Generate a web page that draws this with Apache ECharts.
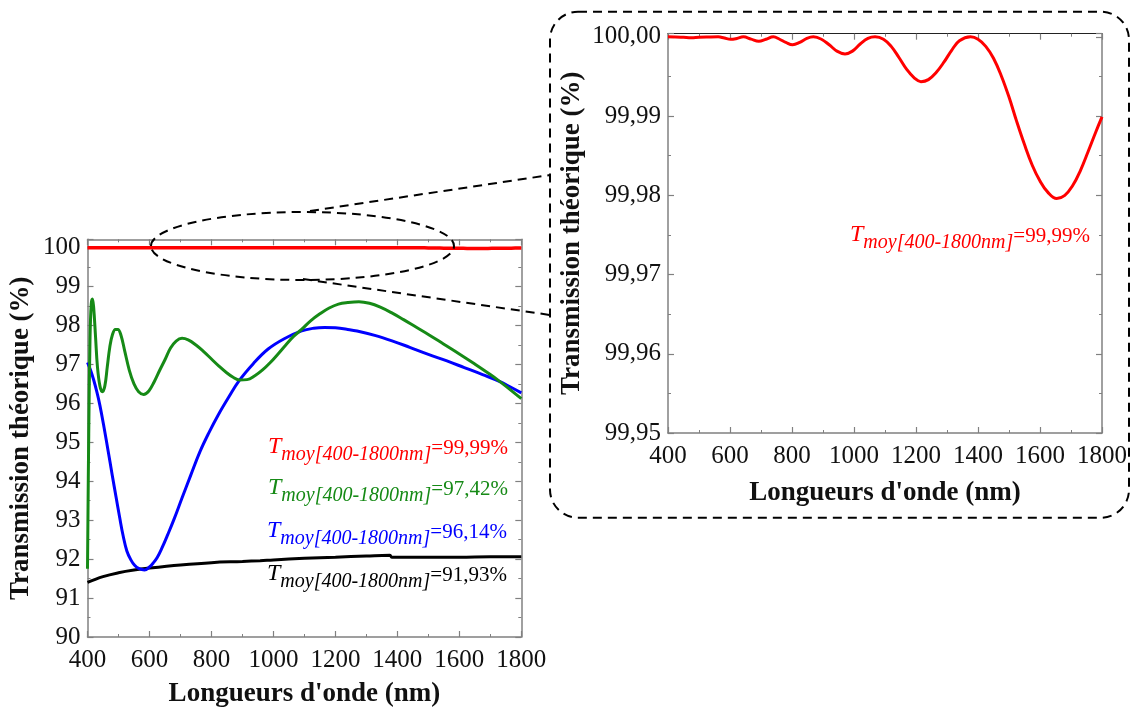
<!DOCTYPE html>
<html>
<head>
<meta charset="utf-8">
<script src="https://cdn.jsdelivr.net/npm/echarts@6/dist/echarts.min.js"></script>
<style>
html,body{margin:0;padding:0;background:#fff;}
#c{width:1132px;height:713px;}
</style>
</head>
<body>
<div id="c"></div>
<script>
// ---- data (wavelength nm, transmission %) ----
const redWl = [400,425,450,475,500,530,562,582,602,622,643,668,693,716,740,760,780,802,825,848,869,895,920,945,971,995,1020,1045,1068,1095,1120,1145,1170,1195,1216,1240,1265,1290,1315,1340,1376,1400,1425,1450,1475,1500,1525,1550,1575,1600,1625,1654,1680,1705,1730,1755,1780,1800];
const redT  = [100.0000,99.99998,99.99994,99.9999,99.99995,99.99998,100.0000,99.99985,99.9997,99.9998,100.0000,99.99972,99.99945,99.9997,100.0000,99.9997,99.9993,99.9990,99.9993,99.9998,100.0000,99.9997,99.9990,99.9982,99.99785,99.9982,99.9991,99.9998,100.0000,99.9997,99.9988,99.9974,99.9959,99.9948,99.99435,99.9946,99.9955,99.9968,99.9983,99.9995,100.0000,99.9997,99.9988,99.9973,99.9951,99.9924,99.9893,99.9864,99.9838,99.9818,99.9804,99.9796,99.9800,99.9812,99.9831,99.9855,99.9880,99.9899];

const greenWl = [400,404,408,412,416,420,426,432,440,448,456,464,472,480,490,498,508,520,535,550,565,581,598,615,633,650,668,686,705,725,750,775,800,825,850,870,890,915,940,965,990,1015,1040,1065,1091,1120,1150,1180,1210,1240,1276,1310,1345,1385,1420,1460,1500,1550,1600,1650,1700,1731,1760,1800];
const greenT  = [91.75,95.2,97.6,98.55,98.68,98.45,97.7,96.95,96.45,96.30,96.45,96.95,97.45,97.75,97.9,97.90,97.75,97.35,96.85,96.5,96.3,96.23,96.32,96.55,96.85,97.12,97.42,97.6,97.67,97.63,97.5,97.33,97.14,96.95,96.78,96.67,96.60,96.61,96.71,96.86,97.05,97.27,97.5,97.72,97.9,98.12,98.3,98.45,98.55,98.59,98.61,98.57,98.47,98.31,98.15,97.96,97.77,97.52,97.27,97.01,96.74,96.56,96.38,96.12];

const blueWl = [400,410,420,430,440,453,467,480,492,504,515,527,540,552,565,584,600,612,625,640,659,680,705,733,763,792,821,855,890,935,982,1035,1091,1130,1165,1200,1240,1270,1330,1385,1440,1500,1560,1616,1675,1731,1765,1800];
const blueT  = [97.05,96.85,96.6,96.3,95.95,95.4,94.76,94.15,93.6,93.06,92.6,92.21,91.98,91.84,91.76,91.72,91.8,91.9,92.04,92.28,92.63,93.04,93.57,94.15,94.76,95.25,95.69,96.15,96.59,97.02,97.39,97.66,97.86,97.93,97.95,97.94,97.9,97.86,97.74,97.6,97.44,97.26,97.09,96.92,96.74,96.56,96.42,96.27];

const blackWl = [400,450,500,550,600,700,800,900,957,1000,1100,1200,1300,1376,1382,1500,1600,1700,1800];
const blackT  = [91.40,91.55,91.65,91.72,91.77,91.85,91.91,91.94,91.96,91.98,92.02,92.05,92.08,92.10,92.05,92.05,92.05,92.06,92.06];

const annotations = [
  {color:'#ff0000', value:'99,99%'},
  {color:'#168a16', value:'97,42%'},
  {color:'#0000ff', value:'96,14%'},
  {color:'#000000', value:'91,93%'}
];
const xTitle = "Longueurs d'onde (nm)";
const yTitle = 'Transmission théorique (%)';

// ---- build ----
const zip = (a,b) => a.map((v,i)=>[v,b[i]]);
const FONT = 'Liberation Serif';
const GRAY = '#808080';

function xAxisCfg(gi, top, gap){
  return {
    type:'value', gridIndex:gi, min:400, max:1800, interval:200,
    position: top ? 'top' : 'bottom',
    axisLine:{show:true, onZero:false, lineStyle:{color: top && gi===1 ? '#222' : GRAY, width: top && gi===1 ? 1 : 1.5}},
    axisTick:{show:true, inside:true, length:6, lineStyle:{color:GRAY, width:1.2}},
    minorTick:{show:true, splitNumber:2, length:3, lineStyle:{color:GRAY, width:1}},
    axisLabel:{show:!top, margin:11, fontFamily:FONT, fontSize:25, color:'#111', formatter: v => String(v)},
    splitLine:{show:false},
    name: top ? '' : xTitle, nameLocation:'middle', nameGap:gap,
    nameTextStyle:{fontFamily:FONT, fontSize:27, fontWeight:'bold', color:'#111'}
  };
}
function yAxisCfg(gi, right, min, max, interval, fmt, gap){
  return {
    type:'value', gridIndex:gi, min:min, max:max, interval:interval,
    position: right ? 'right' : 'left',
    axisLine:{show:true, onZero:false, lineStyle:{color:GRAY, width:1.5}},
    axisTick:{show:true, inside:true, length:6, lineStyle:{color:GRAY, width:1.2}},
    minorTick:{show:true, splitNumber:2, length:3, lineStyle:{color:GRAY, width:1}},
    axisLabel:{show:!right, margin:7, fontFamily:FONT, fontSize:25, color:'#111', formatter:fmt},
    splitLine:{show:false},
    name: right ? '' : yTitle, nameLocation:'middle', nameGap:gap, nameRotate:90,
    nameTextStyle:{fontFamily:FONT, fontSize:27, fontWeight:'bold', color:'#111'}
  };
}
const fmtMain = v => Math.abs(v-Math.round(v))<1e-6 ? String(Math.round(v)) : '';
const fmtInset = v => { const k=v*100; return Math.abs(k-Math.round(k))<1e-6 ? (Math.round(k)/100).toFixed(2).replace('.',',') : ''; };

function line(name, data, color, xi, yi, w){
  return {name, type:'line', data, xAxisIndex:xi, yAxisIndex:yi, smooth:0.4, showSymbol:false, symbol:'none',
          lineStyle:{color, width:w}, itemStyle:{color}, z:3, animation:false};
}

function annText(x, y, a){
  return {
    type:'text', left:x, top:y, z:10,
    style:{
      text:'{t|T}{s|moy[400-1800nm]}{n|=' + a.value + '}',
      fill:a.color,
      rich:{
        t:{fontFamily:FONT, fontStyle:'italic', fontSize:24, fill:a.color, verticalAlign:'bottom', padding:[0,0,6,0]},
        s:{fontFamily:FONT, fontStyle:'italic', fontSize:20, fill:a.color, verticalAlign:'bottom'},
        n:{fontFamily:FONT, fontSize:21, fill:a.color, verticalAlign:'bottom', padding:[0,0,6,0]}
      }
    }
  };
}

const chart = echarts.init(document.getElementById('c'), null, {renderer:'canvas'});
chart.setOption({
  backgroundColor:'#ffffff',
  animation:false,
  grid:[
    {left:87.5, top:239.3, width:433.8, height:400.7},
    {left:668, top:33.7, width:434, height:399.3}
  ],
  xAxis:[xAxisCfg(0,false,44), xAxisCfg(0,true,0), xAxisCfg(1,false,47), xAxisCfg(1,true,0)],
  yAxis:[
    yAxisCfg(0,false,90,100.214,1,fmtMain,53),
    yAxisCfg(0,true,90,100.214,1,fmtMain,0),
    yAxisCfg(1,false,99.95,100.0004,0.01,fmtInset,82),
    yAxisCfg(1,true,99.95,100.0004,0.01,fmtInset,0)
  ],
  series:[
    line('black', zip(blackWl,blackT), '#000000', 0, 0, 3),
    line('blue', zip(blueWl,blueT), '#0000ff', 0, 0, 3),
    line('green', zip(greenWl,greenT), '#168a16', 0, 0, 3),
    line('red', zip(redWl,redT), '#ff0000', 0, 0, 3.5),
    line('red-inset', zip(redWl,redT), '#ff0000', 2, 2, 3)
  ],
  graphic:[
    {type:'rect', z:5, shape:{x:550, y:11.7, width:579, height:506, r:28},
     style:{fill:'none', stroke:'#000', lineWidth:2, lineDash:[9,6]}},
    {type:'ellipse', z:5, shape:{cx:302.5, cy:246, rx:151.5, ry:34},
     style:{fill:'none', stroke:'#000', lineWidth:2, lineDash:[9,6]}},
    {type:'line', z:5, shape:{x1:310, y1:211, x2:550, y2:175}, style:{stroke:'#000', lineWidth:2, lineDash:[9,6]}},
    {type:'line', z:5, shape:{x1:303, y1:279, x2:550, y2:315}, style:{stroke:'#000', lineWidth:2, lineDash:[9,6]}},
    annText(268, 435, annotations[0]),
    annText(268, 476, annotations[1]),
    annText(267, 519, annotations[2]),
    annText(267, 562, annotations[3]),
    annText(850, 223, annotations[0])
  ]
});
</script>
</body>
</html>
